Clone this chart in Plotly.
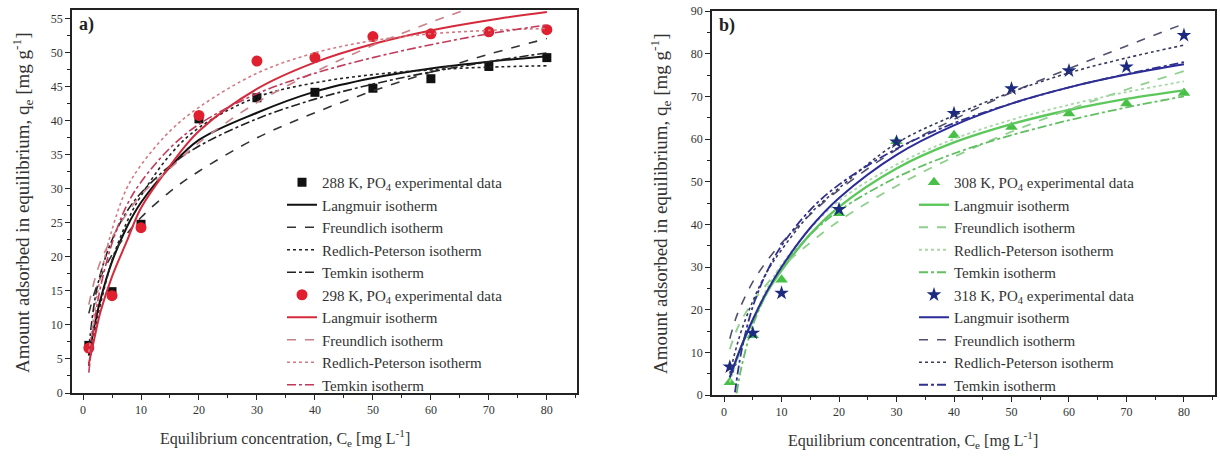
import plotly.graph_objects as go

# ---------------- Panel a) data ----------------
ce_exp = [1, 5, 10, 20, 30, 40, 50, 60, 70, 80]
q_288 = [7.0, 14.9, 24.8, 40.3, 43.4, 44.2, 44.8, 46.2, 48.0, 49.3]
q_298 = [6.6, 14.3, 24.3, 40.8, 48.8, 49.3, 52.4, 52.8, 53.1, 53.4]

ce_fit = [1, 2, 3, 5, 7.5, 10, 15, 20, 30, 40, 50, 60, 70, 80]
lang_288 = [5.5, 10.0, 13.7, 19.3, 24.3, 28.0, 33.2, 37.2, 41.2, 44.3, 46.3, 47.7, 48.7, 49.5]
freu_288 = [11.7, 14.8, 17.0, 20.3, 23.3, 25.8, 29.6, 32.6, 37.5, 41.2, 44.4, 47.2, 49.8, 52.1]
rp_288 = [4.0, 9.0, 13.0, 19.5, 25.0, 29.0, 35.0, 39.0, 43.5, 45.6, 46.8, 47.5, 47.9, 48.1]
temk_288 = [6.6, 13.5, 17.5, 22.5, 26.6, 29.4, 33.4, 36.3, 40.3, 43.2, 45.4, 47.2, 48.7, 50.0]

lang_298 = [4.3, 8.2, 11.9, 17.1, 22.2, 27.2, 33.4, 38.5, 44.7, 48.6, 51.3, 53.3, 54.8, 56.0]
freu_298 = [13.0, 16.6, 19.3, 22.8, 26.3, 29.1, 33.0, 36.8, 42.7, 47.2, 51.1, 54.5, 57.5, 60.2]
rp_298 = [6.0, 12.0, 17.0, 24.0, 30.0, 33.5, 38.5, 42.0, 47.0, 50.0, 51.8, 52.8, 53.3, 53.6]
temk_298 = [3.0, 10.5, 15.5, 22.0, 27.5, 31.0, 36.0, 39.5, 44.0, 47.0, 49.3, 51.2, 52.8, 54.1]

# ---------------- Panel b) data ----------------
q_308 = [3.0, 14.0, 27.0, 42.6, 59.5, 60.9, 62.8, 66.0, 68.3, 70.8]
q_318 = [6.6, 14.5, 23.9, 43.5, 59.3, 66.0, 71.8, 76.0, 76.9, 84.3]

lang_308 = [4.1, 7.8, 11.4, 17.4, 24.1, 29.2, 37.7, 44.1, 53.1, 59.2, 63.5, 66.8, 69.4, 71.4]
freu_308 = [10.7, 14.6, 17.5, 21.8, 26.1, 29.9, 35.7, 40.8, 49.0, 55.8, 61.7, 66.9, 71.6, 75.9]
rp_308 = [3.0, 7.0, 11.0, 17.5, 25.0, 30.5, 39.0, 45.5, 54.0, 60.0, 64.5, 68.0, 71.0, 73.5]
ce_temk_308 = [2.2, 3, 5, 7.5, 10, 15, 20, 30, 40, 50, 60, 70, 80]
temk_308 = [0.4, 6.4, 16.3, 24.1, 29.7, 37.6, 43.2, 51.0, 56.6, 60.9, 64.4, 67.4, 70.0]

lang_318 = [4.1, 7.9, 11.4, 17.7, 24.4, 30.0, 39.2, 46.2, 56.3, 63.2, 68.3, 72.1, 75.1, 77.5]
freu_318 = [13.2, 17.8, 21.1, 26.5, 31.5, 35.6, 42.3, 48.1, 57.5, 64.6, 70.9, 76.5, 81.8, 87.0]
rp_318 = [5.0, 10.5, 15.0, 22.0, 29.0, 34.0, 42.5, 48.5, 59.0, 65.5, 71.0, 75.5, 79.0, 82.0]
ce_temk_318 = [1.9, 3, 5, 7.5, 10, 15, 20, 30, 40, 50, 60, 70, 80]
temk_318 = [0.6, 10.1, 20.7, 29.0, 35.0, 43.4, 49.3, 57.7, 63.7, 68.3, 72.1, 75.2, 78.0]

FONT = "Liberation Serif, 'Times New Roman', DejaVu Serif, serif"

fig = go.Figure()

def add_group(xa, ya, legend, xexp, yexp, mcolor, msym, msize, label, curves):
    fig.add_trace(go.Scatter(x=xexp, y=yexp, mode="markers", name=label,
                             marker=dict(color=mcolor, symbol=msym, size=msize),
                             xaxis=xa, yaxis=ya, legend=legend, cliponaxis=True))
    for name, xs, ys, color, dash, width in curves:
        fig.add_trace(go.Scatter(x=xs, y=ys, mode="lines", name=name,
                                 line=dict(color=color, dash=dash, width=width, shape="spline"),
                                 xaxis=xa, yaxis=ya, legend=legend))

add_group("x", "y", "legend", ce_exp, q_288, "#111111", "square", 9,
          "288 K, PO<sub>4</sub> experimental data",
          [("Langmuir isotherm", ce_fit, lang_288, "#111111", "solid", 2),
           ("Freundlich isotherm", ce_fit, freu_288, "#333333", "dash", 1.6),
           ("Redlich-Peterson isotherm", ce_fit, rp_288, "#222222", "dot", 1.6),
           ("Temkin isotherm", ce_fit, temk_288, "#222222", "dashdot", 1.6)])
add_group("x", "y", "legend", ce_exp, q_298, "#e0202e", "circle", 11,
          "298 K, PO<sub>4</sub> experimental data",
          [("Langmuir isotherm", ce_fit, lang_298, "#d42a3c", "solid", 2),
           ("Freundlich isotherm", ce_fit, freu_298, "#c98088", "dash", 1.6),
           ("Redlich-Peterson isotherm", ce_fit, rp_298, "#d47a84", "dot", 1.6),
           ("Temkin isotherm", ce_fit, temk_298, "#c23a5a", "dashdot", 1.6)])

add_group("x2", "y2", "legend2", ce_exp, q_308, "#48c048", "triangle-up", 11,
          "308 K, PO<sub>4</sub> experimental data",
          [("Langmuir isotherm", ce_fit, lang_308, "#5cc85c", "solid", 2.4),
           ("Freundlich isotherm", ce_fit, freu_308, "#8fd08f", "dash", 1.8),
           ("Redlich-Peterson isotherm", ce_fit, rp_308, "#a8d8a8", "dot", 1.8),
           ("Temkin isotherm", ce_temk_308, temk_308, "#62c062", "dashdot", 1.8)])
add_group("x2", "y2", "legend2", ce_exp, q_318, "#1c2a80", "star", 11,
          "318 K, PO<sub>4</sub> experimental data",
          [("Langmuir isotherm", ce_fit, lang_318, "#2b2b9a", "solid", 2),
           ("Freundlich isotherm", ce_fit, freu_318, "#505070", "dash", 1.6),
           ("Redlich-Peterson isotherm", ce_fit, rp_318, "#3a3a60", "dot", 1.6),
           ("Temkin isotherm", ce_temk_318, temk_318, "#30308f", "dashdot", 1.8)])

W, H = 1220, 462
def px_x(p): return p / W
def px_y(p): return 1 - p / H

axis_common = dict(showline=True, linecolor="#222222", linewidth=1.5, mirror=True,
                   ticks="outside", ticklen=5, tickwidth=1.2, tickcolor="#222222",
                   showgrid=False, zeroline=False, automargin=False,
                   tickfont=dict(family=FONT, size=12, color="#333333"))

fig.update_layout(
    width=W, height=H, margin=dict(l=0, r=0, t=0, b=0),
    paper_bgcolor="white", plot_bgcolor="white",
    font=dict(family=FONT, color="#222222"),
    xaxis=dict(domain=[px_x(72), px_x(577)], range=[-1.9, 85.2], dtick=10, tick0=0,
               minor=dict(dtick=5, ticks="outside", ticklen=3, tickcolor="#222222"),
               anchor="y", **axis_common),
    yaxis=dict(domain=[px_y(393), px_y(10)], range=[0, 56.3], dtick=5, tick0=0,
               minor=dict(dtick=2.5, ticks="outside", ticklen=3, tickcolor="#222222"),
               anchor="x", **axis_common),
    xaxis2=dict(domain=[px_x(712), px_x(1215)], range=[-2.1, 85.4], dtick=10, tick0=0,
                minor=dict(dtick=5, ticks="outside", ticklen=3, tickcolor="#222222"),
                anchor="y2", **axis_common),
    yaxis2=dict(domain=[px_y(395), px_y(11)], range=[0, 90], dtick=10, tick0=0,
                minor=dict(dtick=5, ticks="outside", ticklen=3, tickcolor="#222222"),
                anchor="x2", **axis_common),
    legend=dict(x=px_x(282), y=px_y(166), xanchor="left", yanchor="top",
                bgcolor="rgba(255,255,255,0)", borderwidth=0, tracegroupgap=0,
                itemwidth=30, font=dict(family=FONT, size=15, color="#333333")),
    legend2=dict(x=px_x(914), y=px_y(166), xanchor="left", yanchor="top",
                 bgcolor="rgba(255,255,255,0)", borderwidth=0, tracegroupgap=0,
                 itemwidth=30, font=dict(family=FONT, size=15, color="#333333")),
    showlegend=True,
)

ytitle = "Amount adsorbed in equilibrium, q<sub>e</sub> [mg g<sup>-1</sup>]"
xtitle = "Equilibrium concentration, C<sub>e</sub> [mg L<sup>-1</sup>]"
ann = [
    dict(text=ytitle, x=px_x(22), y=px_y(203), textangle=-90, font_size=19),
    dict(text=ytitle, x=px_x(661), y=px_y(204), textangle=-90, font_size=19),
    dict(text=xtitle, x=px_x(285), y=px_y(438), font_size=16),
    dict(text=xtitle, x=px_x(913), y=px_y(440), font_size=16),
]
for a in ann:
    fs = a.pop("font_size")
    fig.add_annotation(xref="paper", yref="paper", showarrow=False,
                       xanchor="center", yanchor="middle",
                       font=dict(family=FONT, size=fs, color="#333333"), **a)
fig.add_annotation(xref="paper", yref="paper", x=px_x(77), y=px_y(24), text="<b>a)</b>",
                   showarrow=False, xanchor="left", yanchor="middle",
                   font=dict(family=FONT, size=18, color="#222222"))
fig.add_annotation(xref="paper", yref="paper", x=px_x(717), y=px_y(25), text="<b>b)</b>",
                   showarrow=False, xanchor="left", yanchor="middle",
                   font=dict(family=FONT, size=18, color="#222222"))

fig.write_html("out.html")
